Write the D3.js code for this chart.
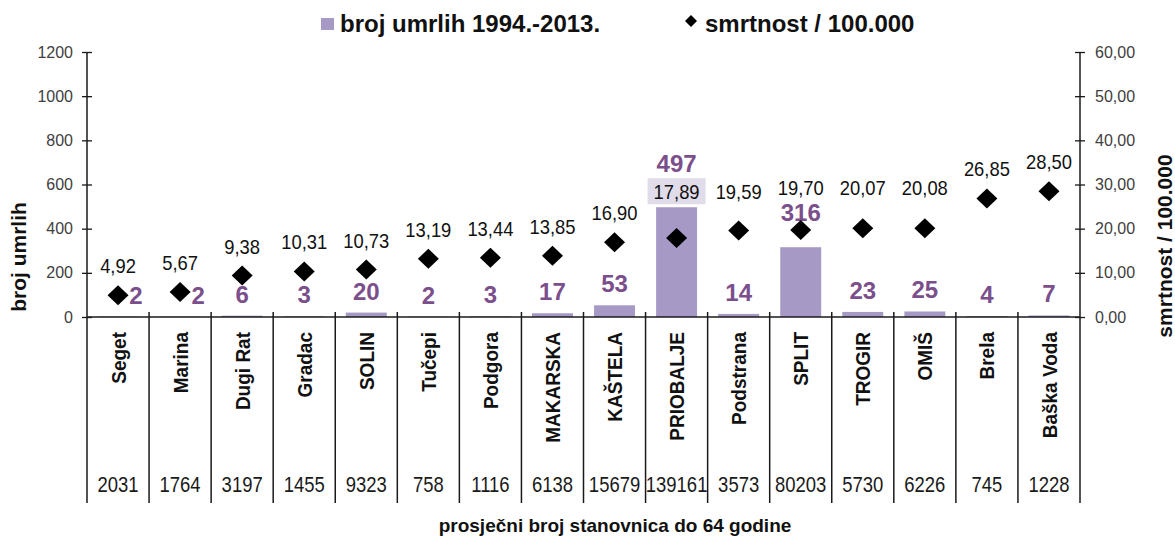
<!DOCTYPE html>
<html>
<head>
<meta charset="utf-8">
<script src="https://cdn.jsdelivr.net/npm/d3@7"></script>
<style>
  body { margin: 0; background: #fff; }
  svg text { font-family: "Liberation Sans", Arial, sans-serif; }
</style>
</head>
<body>
<div id="chart"></div>
<script>
// data
var towns = ['Seget', 'Marina', 'Dugi Rat', 'Gradac', 'SOLIN', 'Tučepi', 'Podgora', 'MAKARSKA',
  'KAŠTELA', 'PRIOBALJE', 'Podstrana', 'SPLIT', 'TROGIR', 'OMIŠ', 'Brela', 'Baška Voda'];
var deaths = [2, 2, 6, 3, 20, 2, 3, 17, 53, 497, 14, 316, 23, 25, 4, 7];
var rates = [4.92, 5.67, 9.38, 10.31, 10.73, 13.19, 13.44, 13.85, 16.90, 17.89, 19.59, 19.70, 20.07, 20.08, 26.85, 28.50];
var population = [2031, 1764, 3197, 1455, 9323, 758, 1116, 6138, 15679, 139161, 3573, 80203, 5730, 6226, 745, 1228];
var leftTicks = [0, 200, 400, 600, 800, 1000, 1200];
var rightTicks = [0, 10, 20, 30, 40, 50, 60];

var colors = {
  bar: '#a699c5',
  barLabel: '#7b4f8c',
  boxFill: '#e1dcea',
  line: '#1a1a1a',
  tick: '#404040'
};

var W = 1175, H = 536;
var plot = {left: 87, right: 1080, top: 52, bottom: 317, under: 503};

var svg = d3.select('#chart').append('svg')
  .attr('width', W)
  .attr('height', H);

var x = d3.scaleBand()
  .domain(towns)
  .range([plot.left, plot.right])
  .paddingInner(0.34)
  .paddingOuter(0.17);
var step = x.step();
function cx(d) { return x(d) + x.bandwidth() / 2; }

var yL = d3.scaleLinear().domain([0, 1200]).range([plot.bottom, plot.top]);
var yR = d3.scaleLinear().domain([0, 60]).range([plot.bottom, plot.top]);
var comma2 = function(v) { return v.toFixed(2).replace('.', ','); };

// bars
svg.selectAll('rect.bar')
  .data(towns)
  .enter().append('rect')
  .attr('class', 'bar')
  .attr('x', function(d) { return x(d); })
  .attr('width', x.bandwidth())
  .attr('y', function(d, i) { return yL(deaths[i]); })
  .attr('height', function(d, i) { return plot.bottom - yL(deaths[i]); })
  .attr('fill', colors.bar);

// axes
var axL = svg.append('g')
  .attr('transform', 'translate(' + plot.left + ',0)')
  .call(d3.axisLeft(yL).tickValues(leftTicks).tickSize(5).tickPadding(9).tickFormat(d3.format('d')));
var axR = svg.append('g')
  .attr('transform', 'translate(' + plot.right + ',0)')
  .call(d3.axisRight(yR).tickValues(rightTicks).tickSize(5).tickPadding(10).tickFormat(comma2));
[axL, axR].forEach(function(ax) {
  ax.select('.domain').remove();
  ax.selectAll('.tick line').attr('x1', -5).attr('x2', 5).attr('stroke', colors.line).attr('stroke-width', 1.3);
  ax.selectAll('.tick text')
    .attr('fill', colors.tick)
    .style('font-size', '16px');
});

// category grid below the zero line
var bounds = d3.range(towns.length + 1).map(function(i) { return plot.left + i * step; });
svg.selectAll('line.div')
  .data(bounds)
  .enter().append('line')
  .attr('x1', function(d) { return d; })
  .attr('x2', function(d) { return d; })
  .attr('y1', function(d, i) { return (i === 0 || i === towns.length) ? plot.top : plot.bottom - 5; })
  .attr('y2', plot.under)
  .attr('stroke', colors.line)
  .attr('stroke-width', 1.5);
svg.append('line')
  .attr('x1', plot.left).attr('x2', plot.right)
  .attr('y1', plot.bottom).attr('y2', plot.bottom)
  .attr('stroke', colors.line)
  .attr('stroke-width', 1.5);

// town names, rotated
svg.selectAll('text.town')
  .data(towns)
  .enter().append('text')
  .attr('class', 'town')
  .attr('transform', function(d) { return 'translate(' + cx(d) + ',332) rotate(-90) scale(1,1.1)'; })
  .attr('text-anchor', 'end')
  .attr('dy', '0.36em')
  .style('font-size', '19px')
  .style('font-weight', 'bold')
  .attr('fill', '#111')
  .text(function(d) { return d; });

// population row (narrow digits, like the original)
svg.selectAll('text.pop')
  .data(towns)
  .enter().append('text')
  .attr('class', 'pop')
  .attr('transform', function(d) { return 'translate(' + cx(d) + ',492) scale(0.84,1)'; })
  .attr('text-anchor', 'middle')
  .style('font-size', '22px')
  .attr('fill', '#1a1a1a')
  .text(function(d, i) { return population[i]; });

// label placement: rate labels sit over the diamond, bar labels over the bar
var DH = 10; // diamond half size
var rateBase = [], boxed = [], barLab = [];
towns.forEach(function(t, i) {
  var top = yL(deaths[i]);
  var dy = yR(rates[i]);

  // rate label
  var rb = dy - 22, lifted = false;
  if (rb > top - 4 && plot.bottom - top > 40) { rb = top - 8; lifted = true; }
  if (i > 0 && rb > rateBase[i - 1]) rb = rateBase[i - 1];

  // bar label
  var b = top - 13, dx = 0;
  var rTop = rb - (lifted ? 21 : 15), rBot = rb + (lifted ? 5 : 2);
  if (b - 16 < rBot && b > rTop) {
    b = rTop - 6;
  } else if (b - 16 < dy + DH && b > dy - DH) {
    if (plot.bottom - top < 20) dx = 18;
    else b = dy - DH + 1;
  }
  // keep the rate label clear of a bar label pushed up into it
  if (!lifted && rb + 4 > b - 22 && b < top - 13) rb = b - 26;

  rateBase.push(rb);
  boxed.push(lifted);
  barLab.push({x: cx(t) + dx, y: b});
});

svg.selectAll('text.deaths')
  .data(towns)
  .enter().append('text')
  .attr('class', 'deaths')
  .attr('x', function(d, i) { return barLab[i].x; })
  .attr('y', function(d, i) { return barLab[i].y; })
  .attr('text-anchor', 'middle')
  .style('font-size', '24px')
  .style('font-weight', 'bold')
  .attr('fill', colors.barLabel)
  .text(function(d, i) { return deaths[i]; });

// diamonds
var diamond = 'M0,' + (-DH) + 'L' + (DH + 0.5) + ',0L0,' + DH + 'L' + (-DH - 0.5) + ',0Z';
svg.selectAll('path.rate')
  .data(towns)
  .enter().append('path')
  .attr('class', 'rate')
  .attr('d', diamond)
  .attr('transform', function(d, i) { return 'translate(' + cx(d) + ',' + yR(rates[i]) + ')'; })
  .attr('fill', '#000');

// rate labels
svg.selectAll('rect.rbox')
  .data(towns.filter(function(d, i) { return boxed[i]; }))
  .enter().append('rect')
  .attr('class', 'rbox')
  .attr('x', function(d) { return cx(d) - 29; })
  .attr('y', function(d) { return rateBase[towns.indexOf(d)] - 21; })
  .attr('width', 58)
  .attr('height', 26)
  .attr('fill', colors.boxFill);
svg.selectAll('text.ratelab')
  .data(towns)
  .enter().append('text')
  .attr('class', 'ratelab')
  .attr('transform', function(d, i) { return 'translate(' + cx(d) + ',' + rateBase[i] + ') scale(0.92,1)'; })
  .attr('text-anchor', 'middle')
  .style('font-size', '20px')
  .attr('fill', '#111')
  .text(function(d, i) { return comma2(rates[i]); });

// axis titles
svg.append('text')
  .attr('transform', 'translate(26,257) rotate(-90)')
  .attr('text-anchor', 'middle')
  .style('font-size', '21px')
  .style('font-weight', 'bold')
  .attr('fill', '#111')
  .text('broj umrlih');
svg.append('text')
  .attr('transform', 'translate(1172,246) rotate(-90)')
  .attr('text-anchor', 'middle')
  .style('font-size', '21px')
  .style('font-weight', 'bold')
  .attr('fill', '#111')
  .text('smrtnost / 100.000');
svg.append('text')
  .attr('x', 615)
  .attr('y', 532)
  .attr('text-anchor', 'middle')
  .style('font-size', '19px')
  .style('font-weight', 'bold')
  .attr('fill', '#111')
  .text('prosječni broj stanovnica do 64 godine');

// legend
var legend = svg.append('g');
legend.append('rect')
  .attr('x', 321).attr('y', 18).attr('width', 13).attr('height', 12)
  .attr('fill', colors.bar);
legend.append('text')
  .attr('x', 340).attr('y', 32)
  .style('font-size', '24px').style('font-weight', 'bold')
  .attr('fill', '#111')
  .text('broj umrlih 1994.-2013.');
legend.append('path')
  .attr('d', 'M0,-6L6,0L0,6L-6,0Z')
  .attr('transform', 'translate(691,21)')
  .attr('fill', '#000');
legend.append('text')
  .attr('x', 705).attr('y', 32)
  .style('font-size', '24px').style('font-weight', 'bold')
  .attr('fill', '#111')
  .text('smrtnost / 100.000');
</script>
</body>
</html>
